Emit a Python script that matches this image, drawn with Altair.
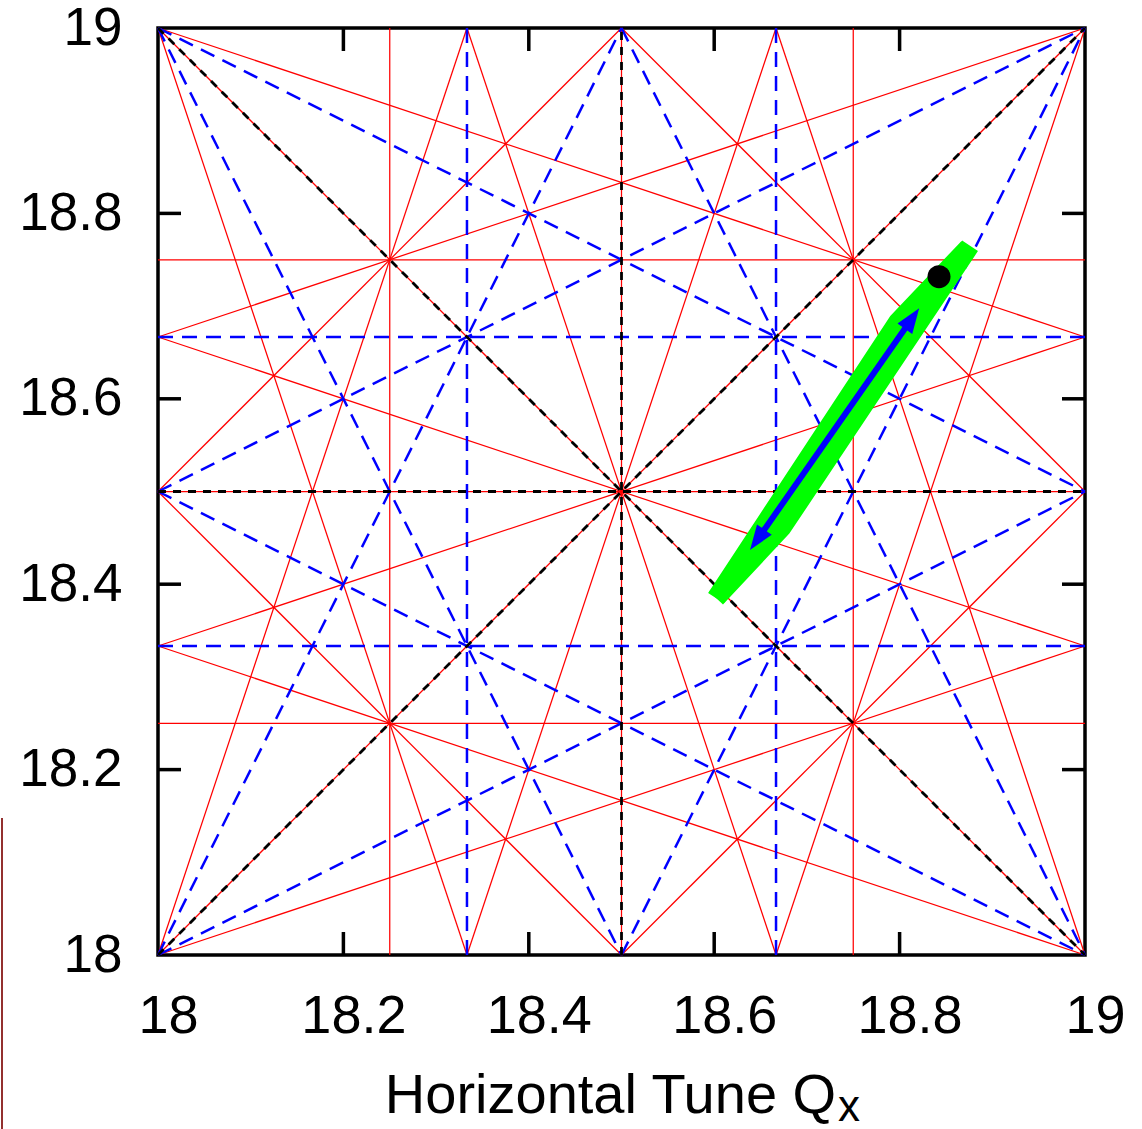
import altair as alt
import pandas as pd

# ---- axis values -----------------------------------------------------------
LABEL_VALUES = [18.0, 18.2, 18.4, 18.6, 18.8, 19.0]
TICK_VALUES = [18.2, 18.4, 18.6, 18.8]

# ---- resonance lines: segment end points (Qx1, Qy1, Qx2, Qy2) --------------
# second order: 2Qx, 2Qy, Qx+Qy, Qx-Qy
SECOND_ORDER = [
    (18.5, 18.0, 18.5, 19.0),
    (18.0, 18.5, 19.0, 18.5),
    (18.0, 18.0, 19.0, 19.0),
    (18.0, 19.0, 19.0, 18.0),
]

# third order: 3Qx, 3Qy, 2Qx+-Qy, Qx+-2Qy
THIRD_ORDER = [
    (18.3333, 18.0, 18.3333, 19.0),
    (18.6667, 18.0, 18.6667, 19.0),
    (18.0, 18.3333, 19.0, 18.3333),
    (18.0, 18.6667, 19.0, 18.6667),
    (18.0, 19.0, 18.5, 18.0),
    (18.5, 19.0, 19.0, 18.0),
    (18.0, 18.5, 19.0, 18.0),
    (18.0, 19.0, 19.0, 18.5),
    (18.0, 18.0, 18.5, 19.0),
    (18.5, 18.0, 19.0, 19.0),
    (18.0, 18.5, 19.0, 19.0),
    (18.0, 18.0, 19.0, 18.5),
]

# fourth order: 4Qx, 4Qy, 3Qx+-Qy, Qx+-3Qy, 2Qx+-2Qy
FOURTH_ORDER = [
    (18.25, 18.0, 18.25, 19.0),
    (18.5, 18.0, 18.5, 19.0),
    (18.75, 18.0, 18.75, 19.0),
    (18.0, 18.25, 19.0, 18.25),
    (18.0, 18.5, 19.0, 18.5),
    (18.0, 18.75, 19.0, 18.75),
    (18.0, 19.0, 18.3333, 18.0),
    (18.3333, 19.0, 18.6667, 18.0),
    (18.6667, 19.0, 19.0, 18.0),
    (18.0, 18.3333, 19.0, 18.0),
    (18.0, 18.6667, 19.0, 18.3333),
    (18.0, 19.0, 19.0, 18.6667),
    (18.0, 18.5, 18.5, 18.0),
    (18.0, 19.0, 19.0, 18.0),
    (18.5, 19.0, 19.0, 18.5),
    (18.0, 18.0, 18.3333, 19.0),
    (18.3333, 18.0, 18.6667, 19.0),
    (18.6667, 18.0, 19.0, 19.0),
    (18.0, 18.6667, 19.0, 19.0),
    (18.0, 18.3333, 19.0, 18.6667),
    (18.0, 18.0, 19.0, 18.3333),
    (18.0, 18.5, 18.5, 19.0),
    (18.0, 18.0, 19.0, 19.0),
    (18.5, 18.0, 19.0, 18.5),
]

# ---- measured tune footprint (two strokes) ---------------------------------
FOOTPRINT_LOWER_QX = [18.602, 18.673, 18.876]
FOOTPRINT_LOWER_QY = [18.385, 18.461, 18.765]
FOOTPRINT_UPPER_QX = [18.602, 18.798, 18.874]
FOOTPRINT_UPPER_QY = [18.385, 18.683, 18.763]

# ---- tune scan arrow (double headed) ---------------------------------------
ARROW_QX = [18.6464, 18.8134]
ARROW_QY = [18.4479, 18.6866]
ARROW_ANGLE = [215, 35]

# ---- working point ---------------------------------------------------------
WORKING_QX = [18.8425]
WORKING_QY = [18.7317]

PLOT_W, PLOT_H = 927, 927
TICK_LEN = 23
FONT = "Liberation Sans"

XS = alt.Scale(domain=[18, 19], nice=False, zero=False)
YS = alt.Scale(domain=[18, 19], nice=False, zero=False)

X_AXIS = alt.Axis(
    values=LABEL_VALUES, format="~g", ticks=False, domain=False, grid=False,
    labelFont=FONT, labelFontSize=54, labelColor="black", labelPadding=34,
    labelOffset=10, labelFlush=False, labelOverlap=False,
    title="Horizontal Tune Q", titleFont=FONT, titleFontSize=56,
    titleFontWeight="normal", titleColor="black",
    titleBaseline="alphabetic", titleY=157, titleX=452, titleAlign="center",
)
Y_AXIS = alt.Axis(
    values=LABEL_VALUES, format="~g", ticks=False, domain=False, grid=False,
    labelFont=FONT, labelFontSize=53, labelColor="black", labelPadding=36,
    labelFlush=False, labelOverlap=False, title=None,
)


def qx(field="qx"):
    return alt.X(f"{field}:Q", scale=XS, axis=X_AXIS)


def qy(field="qy"):
    return alt.Y(f"{field}:Q", scale=YS, axis=Y_AXIS)


def segments(rows):
    return pd.DataFrame(rows, columns=["qx", "qy", "qx2", "qy2"])


def resonance_layer(rows, **mark):
    return alt.Chart(segments(rows)).mark_rule(**mark).encode(
        x=qx(), y=qy(), x2="qx2:Q", y2="qy2:Q"
    )


red = resonance_layer(FOURTH_ORDER, color="#ff0000", strokeWidth=1.25)
blue = resonance_layer(THIRD_ORDER, color="#0000ff", strokeWidth=2.5,
                       strokeDash=[15, 9])
black = resonance_layer(SECOND_ORDER, color="#000000", strokeWidth=2.8,
                        strokeDash=[8, 7])

# inward tick marks on all four sides
ticks_df = pd.DataFrame({"qx": TICK_VALUES, "qy": TICK_VALUES})
tick_style = dict(color="black", strokeWidth=3.5)
ticks_bottom = alt.Chart(ticks_df).mark_rule(**tick_style).encode(
    x=qx(), y=alt.value(PLOT_H), y2=alt.value(PLOT_H - TICK_LEN))
ticks_top = alt.Chart(ticks_df).mark_rule(**tick_style).encode(
    x=qx(), y=alt.value(0), y2=alt.value(TICK_LEN))
ticks_left = alt.Chart(ticks_df).mark_rule(**tick_style).encode(
    y=qy(), x=alt.value(0), x2=alt.value(TICK_LEN))
ticks_right = alt.Chart(ticks_df).mark_rule(**tick_style).encode(
    y=qy(), x=alt.value(PLOT_W), x2=alt.value(PLOT_W - TICK_LEN))

footprint_df = pd.concat([
    pd.DataFrame({"qx": FOOTPRINT_LOWER_QX, "qy": FOOTPRINT_LOWER_QY,
                  "path": "lower", "step": range(3)}),
    pd.DataFrame({"qx": FOOTPRINT_UPPER_QX, "qy": FOOTPRINT_UPPER_QY,
                  "path": "upper", "step": range(3)}),
])
footprint = alt.Chart(footprint_df).mark_line(
    color="#00ff00", strokeWidth=19, strokeCap="butt", strokeJoin="miter"
).encode(x=qx(), y=qy(), detail="path:N", order="step:Q")

arrow_df = pd.DataFrame({"qx": ARROW_QX, "qy": ARROW_QY, "angle": ARROW_ANGLE})
arrow_shaft = alt.Chart(pd.DataFrame({
    "qx": [ARROW_QX[0]], "qy": [ARROW_QY[0]],
    "qx2": [ARROW_QX[1]], "qy2": [ARROW_QY[1]],
})).mark_rule(color="#0000ff", strokeWidth=6).encode(
    x=qx(), y=qy(), x2="qx2:Q", y2="qy2:Q")
arrow_heads = alt.Chart(arrow_df).mark_point(
    shape="M0,-1L0.72,1L-0.72,1Z", filled=True, size=625, color="#0000ff",
    opacity=1, strokeWidth=0,
).encode(x=qx(), y=qy(), angle=alt.Angle("angle:Q", scale=None))

working = alt.Chart(pd.DataFrame({"qx": WORKING_QX, "qy": WORKING_QY})).mark_circle(
    size=530, color="black", opacity=1
).encode(x=qx(), y=qy())

# subscript "x" of the axis title Q_x
title_sub = alt.Chart(pd.DataFrame({"t": ["x"]})).mark_text(
    font=FONT, fontSize=44, color="black", align="left", baseline="alphabetic"
).encode(text="t:N", x=alt.value(680), y=alt.value(1093))

# thin page-margin rule at the far left
margin_rule = alt.Chart(pd.DataFrame({"a": [0]})).mark_rule(
    color="#93302f", strokeWidth=2
).encode(x=alt.value(-156), y=alt.value(790), y2=alt.value(1101))

chart = alt.layer(
    red, blue, black,
    ticks_bottom, ticks_top, ticks_left, ticks_right,
    footprint, arrow_shaft, arrow_heads, working, title_sub, margin_rule,
).properties(
    width=PLOT_W, height=PLOT_H,
    padding={"left": 158, "top": 28, "right": 57, "bottom": 174},
    autosize=alt.AutoSizeParams(type="none"),
    background="white",
).configure_view(stroke="black", strokeWidth=3.5)

chart.save("out.html", embed_options={"renderer": "svg", "actions": False})
